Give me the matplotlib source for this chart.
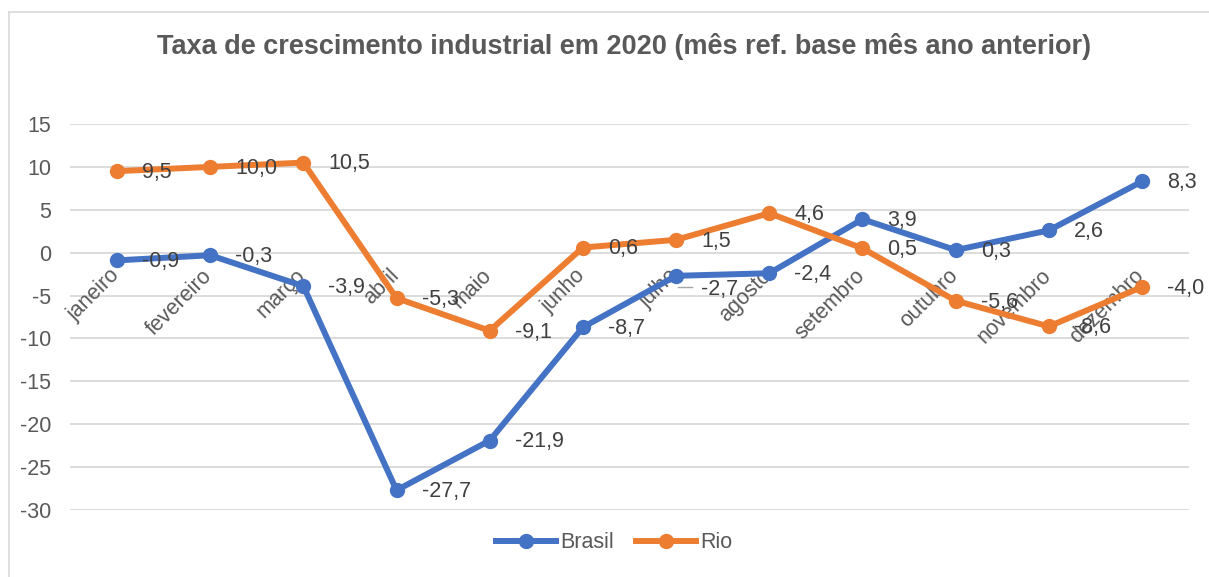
import matplotlib
matplotlib.use('Agg')
import matplotlib.pyplot as plt
from matplotlib.lines import Line2D

plt.rcParams['font.family'] = ['Liberation Sans', 'DejaVu Sans']

# data
meses = ['janeiro', 'fevereiro', 'março', 'abril', 'maio', 'junho',
         'julho', 'agosto', 'setembro', 'outubro', 'novembro', 'dezembro']
brasil = [-0.9, -0.3, -3.9, -27.7, -21.9, -8.7, -2.7, -2.4, 3.9, 0.3, 2.6, 8.3]
rio = [9.5, 10.0, 10.5, -5.3, -9.1, 0.6, 1.5, 4.6, 0.5, -5.6, -8.6, -4.0]
y_ticks = [15, 10, 5, 0, -5, -10, -15, -20, -25, -30]

titulo = 'Taxa de crescimento industrial em 2020 (mês ref. base mês ano anterior)'

AZUL = '#4472C4'
LARANJA = '#ED7D31'
CINZA = '#595959'
TEXTO = '#404040'
GRADE = '#D9D9D9'
FS = 15.5

W, H = 1209, 577
fig = plt.figure(figsize=(W / 100, H / 100), dpi=100)

# plot area in pixels
left, right, top, bottom = 70.4, 1188.6, 124, 510
ax = fig.add_axes([left / W, 1 - bottom / H, (right - left) / W, (bottom - top) / H])

x = list(range(len(meses)))
ax.set_xlim(-0.5, len(meses) - 0.5)
ax.set_ylim(-30, 15)

for y in y_ticks:
    ax.axhline(y, color=GRADE, lw=1.3, zorder=0)

ax.plot(x, brasil, color=AZUL, lw=4.3, marker='o', ms=10, clip_on=False, zorder=3)
ax.plot(x, rio, color=LARANJA, lw=4.3, marker='o', ms=10, clip_on=False, zorder=3)

def fmt(v):
    return f'{v:.1f}'.replace('.', ',')

# the Brasil label for julho was dragged down in the original (with a leader line)
julho = meses.index('julho')
for i in x:
    dy = -9.5 if i == julho else -1
    ax.annotate(fmt(brasil[i]), (i, brasil[i]), xytext=(18, dy), textcoords='offset points',
                ha='left', va='center', fontsize=FS, color=TEXTO, zorder=4)
    ax.annotate(fmt(rio[i]), (i, rio[i]), xytext=(18, -1), textcoords='offset points',
                ha='left', va='center', fontsize=FS, color=TEXTO, zorder=4)

# leader line
px, py = ax.transData.transform((julho, brasil[julho]))
fig.add_artist(Line2D([(px + 2) / W, (px + 16) / W], [(py - 11.5) / H, (py - 11.5) / H],
                      transform=fig.transFigure, color='#A6A6A6', lw=1))

# category labels next to the axis at y=0
for i, m in enumerate(meses):
    ax.annotate(m, (i, 0), xytext=(-6, -9), textcoords='offset points',
                rotation=45, rotation_mode='anchor', ha='right', va='top',
                fontsize=FS, color=CINZA, zorder=2)

ax.set_xticks([])
ax.set_yticks(y_ticks)
ax.set_yticklabels([str(v) for v in y_ticks])
ax.tick_params(axis='y', length=0, pad=14, labelsize=FS, labelcolor=CINZA)
for s in ax.spines.values():
    s.set_visible(False)

fig.text(624 / W, 1 - 47 / H, titulo, ha='center', va='center',
         fontsize=19.5, fontweight='bold', color=CINZA)

handles = [Line2D([], [], color=AZUL, lw=4.3, marker='o', ms=10),
           Line2D([], [], color=LARANJA, lw=4.3, marker='o', ms=10)]
fig.legend(handles, ['Brasil', 'Rio'], loc='center', bbox_to_anchor=(614 / W, 1 - 543 / H),
           ncol=2, frameon=False, fontsize=FS, labelcolor=CINZA,
           handlelength=2.8, handletextpad=0.2, columnspacing=1.0)

# chart border
fig.add_artist(Line2D([9 / W, 9 / W], [0, 1 - 11.5 / H], transform=fig.transFigure,
                      color=GRADE, lw=1.2))
fig.add_artist(Line2D([9 / W, 1], [1 - 11.5 / H, 1 - 11.5 / H], transform=fig.transFigure,
                      color=GRADE, lw=1.2))

fig.savefig('out.png', dpi=100)
